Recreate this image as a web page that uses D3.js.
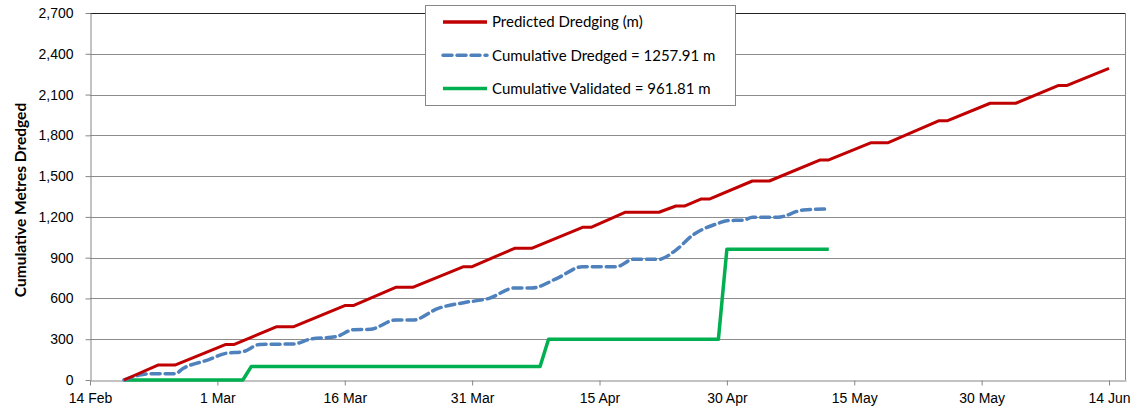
<!DOCTYPE html>
<meta charset="utf-8">
<style>
body {
  margin: 0;
  background: #fff;
  font-family: Lato, "Open Sans", sans-serif;
}
.axis text {
  font-size: 14px;
  fill: #000;
}
.axis path, .axis line {
  stroke: #868686;
}
.legend text {
  font-size: 15px;
}
</style>
<svg width="1132" height="411"></svg>
<script src="https://cdn.jsdelivr.net/npm/d3@7"></script>
<script>

// predicted dredging (vertices of the stepped line)
var predDates = ["2013-02-18","2013-02-22","2013-02-24","2013-03-02","2013-03-03","2013-03-08","2013-03-10",
  "2013-03-16","2013-03-17","2013-03-22","2013-03-24","2013-03-30","2013-03-31","2013-04-05","2013-04-07",
  "2013-04-13","2013-04-14","2013-04-18","2013-04-22","2013-04-24","2013-04-25","2013-04-27","2013-04-28",
  "2013-05-03","2013-05-05","2013-05-11","2013-05-12","2013-05-17","2013-05-19","2013-05-25","2013-05-26",
  "2013-05-31","2013-06-03","2013-06-08","2013-06-09","2013-06-14"];
var predValues = [0,110,110,262,262,392,392,
  548,548,682,682,834,834,969,969,
  1123,1123,1234,1234,1280,1280,1332,1332,
  1464,1464,1619,1619,1746,1746,1908,1908,
  2036,2036,2166,2166,2293];

// cumulative dredged
var dredgedDates = ["2013-02-18","2013-02-20","2013-02-21","2013-02-24","2013-02-25","2013-02-28","2013-03-02",
  "2013-03-04","2013-03-06","2013-03-10","2013-03-12","2013-03-15","2013-03-17","2013-03-19","2013-03-22",
  "2013-03-24","2013-03-27","2013-03-30","2013-04-02","2013-04-05","2013-04-07","2013-04-10","2013-04-13",
  "2013-04-17","2013-04-19","2013-04-22","2013-04-24","2013-04-26","2013-04-29","2013-04-30","2013-05-02",
  "2013-05-03","2013-05-06","2013-05-09","2013-05-12"];
var dredgedValues = [0,38,46,46,86,150,196,
  208,262,265,302,319,370,373,441,
  441,527,569,601,677,677,748,834,
  834,888,888,956,1067,1153,1172,1177,
  1197,1197,1251,1257.91];

// cumulative validated
var validDates = ["2013-02-18","2013-03-04","2013-03-05","2013-04-08","2013-04-09","2013-04-29","2013-04-30","2013-05-12"];
var validValues = [0,0,100,100,300,300,961.81,961.81];

var yTicks = [0,300,600,900,1200,1500,1800,2100,2400,2700];
var legendLabels = ["Predicted Dredging (m)", "Cumulative Dredged = 1257.91 m", "Cumulative Validated = 961.81 m"];

var parse = d3.timeParse("%Y-%m-%d");
var svg = d3.select("svg");

var plotLeft = 90, plotRight = 1126, plotTop = 13, plotBottom = 380;

var x = d3.scaleTime()
    .domain([parse("2013-02-14"), parse("2013-06-16")])
    .range([plotLeft, plotRight]);

var y = d3.scaleLinear()
    .domain([0, 2700])
    .range([plotBottom, plotTop]);

var xTicks = d3.range(0, 121, 15).map(function(d){ return d3.timeDay.offset(parse("2013-02-14"), d); });

// gridlines (top one is the dark frame line)
svg.append("g").attr("class", "grid")
  .selectAll("line")
  .data(yTicks.slice(1))
  .enter().append("line")
    .attr("x1", plotLeft).attr("x2", plotRight - 1)
    .attr("y1", function(d){ return Math.round(y(d)) + 0.5; })
    .attr("y2", function(d){ return Math.round(y(d)) + 0.5; })
    .attr("stroke", function(d){ return d == 2700 ? "#222" : "#8c8c8c"; });

// right border
svg.append("line")
  .attr("x1", plotRight - 0.5).attr("x2", plotRight - 0.5)
  .attr("y1", plotTop).attr("y2", plotBottom)
  .attr("stroke", "#868686");

svg.append("g")
  .attr("class", "axis")
  .attr("transform", "translate(0," + (plotBottom + 0.5) + ")")
  .call(d3.axisBottom(x).tickValues(xTicks).tickFormat(d3.timeFormat("%-d %b")).tickSize(5).tickSizeOuter(0))
  .call(function(g){ g.selectAll("text").attr("dy", "1.05em"); });

svg.append("g")
  .attr("class", "axis")
  .attr("transform", "translate(" + (plotLeft + 0.5) + ",0)")
  .call(d3.axisLeft(y).tickValues(yTicks).tickFormat(d3.format(",")).tickSize(5).tickSizeOuter(0).tickPadding(12));

svg.append("text")
  .attr("transform", "translate(26,200) rotate(-90)")
  .attr("text-anchor", "middle")
  .style("font-size", "15.5px")
  .style("font-weight", "bold")
  .text("Cumulative Metres Dredged");

function series(dates, values) {
  return dates.map(function(d, i){ return {date: parse(d), value: values[i]}; });
}

var line = d3.line()
    .x(function(d){ return x(d.date); })
    .y(function(d){ return y(d.value); });

svg.append("path")
  .datum(series(validDates, validValues))
  .attr("d", line)
  .attr("fill", "none")
  .attr("stroke", "#00B050")
  .attr("stroke-width", 3.5)
  .attr("stroke-linejoin", "round");

svg.append("path")
  .datum(series(dredgedDates, dredgedValues))
  .attr("d", line.curve(d3.curveMonotoneX))
  .attr("fill", "none")
  .attr("stroke", "#4F81BD")
  .attr("stroke-width", 3.5)
  .attr("stroke-dasharray", "9,5")
  .attr("stroke-linecap", "round");

svg.append("path")
  .datum(series(predDates, predValues))
  .attr("d", line.curve(d3.curveLinear))
  .attr("fill", "none")
  .attr("stroke", "#C00000")
  .attr("stroke-width", 3)
  .attr("stroke-linejoin", "round");

// legend
var legend = svg.append("g").attr("class", "legend");
legend.append("rect")
  .attr("x", 425.5).attr("y", 5.5)
  .attr("width", 310).attr("height", 100)
  .attr("fill", "#fff")
  .attr("stroke", "#868686");

var legendStyles = [
  {color: "#C00000", dash: null},
  {color: "#4F81BD", dash: "9,5"},
  {color: "#00B050", dash: null}
];

legendLabels.forEach(function(label, i){
  var ly = 22 + i * 33.3;
  legend.append("line")
    .attr("x1", 443).attr("x2", 487)
    .attr("y1", ly).attr("y2", ly)
    .attr("stroke", legendStyles[i].color)
    .attr("stroke-width", 3.5)
    .attr("stroke-dasharray", legendStyles[i].dash)
    .attr("stroke-linecap", i == 1 ? "round" : "butt");
  legend.append("text")
    .attr("x", 492).attr("y", ly)
    .attr("dy", "0.35em")
    .text(label);
});

</script>
